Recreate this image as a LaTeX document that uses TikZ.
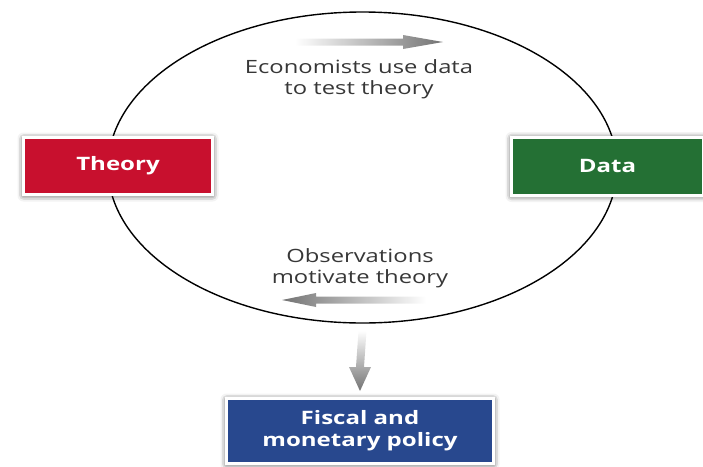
\documentclass[tikz,border=0pt]{standalone}
\usepackage{fontspec}
\setsansfont[FakeStretch=1.3]{Open Sans}
\usetikzlibrary{shapes.geometric,calc,shadows.blur}

\definecolor{theoryred}{RGB}{200,16,46}
\definecolor{datagreen}{RGB}{36,112,52}
\definecolor{policyblue}{RGB}{40,72,142}
\definecolor{notegray}{RGB}{55,55,55}

\tikzset{
  box/.style={draw=white, line width=3pt, text=white, align=center, inner sep=0pt,
    font=\sffamily\bfseries\fontsize{18.5}{22}\selectfont,
    blur shadow={shadow xshift=0pt, shadow yshift=-1pt, shadow blur radius=6pt, shadow opacity=75}},
  note/.style={text=notegray, align=center, font=\sffamily\fontsize{18.3}{20.5}\selectfont},
}

\begin{document}
\begin{tikzpicture}[x=1pt,y=-1pt]
\useasboundingbox (0,0) rectangle (703,466);
% the cycle
\node[ellipse, draw, line width=1.4pt, minimum width=509, minimum height=311, inner sep=0pt] (loop) at (362.5,167.5) {};
\node[box, fill=theoryred, minimum width=189, minimum height=57] (theory) at (118,166) {Theory};
\node[box, fill=datagreen, minimum width=192, minimum height=58] (data) at (607.5,166) {Data};
\node[box, fill=policyblue, minimum width=267, minimum height=65] (policy) at (360,431) {Fiscal and\\monetary policy};
\node[note] (test) at (359,79) {Economists use data\\to test theory};
\node[note] (observe) at (360,268) {Observations\\motivate theory};
% gray arrows
\shade[left color=white, right color=black!55] (295,38.5) -- (403,38.5) -- (403,35) -- (443,42) -- (403,49) -- (403,45.5) -- (295,45.5) -- cycle;
\shade[left color=black!55, right color=white] (426,296.5) -- (316,296.5) -- (316,293) -- (282,300) -- (316,307) -- (316,303.5) -- (426,303.5) -- cycle;
\shade[top color=white, bottom color=black!55]
  ($(loop.south)+(-4,7)$) -- ($(policy.north)+(-4,-30)$) -- ($(policy.north)+(-11,-30)$)
  -- ($(policy.north)+(0,-6)$)
  -- ($(policy.north)+(11,-30)$) -- ($(policy.north)+(4,-30)$) -- ($(loop.south)+(4,7)$) -- cycle;
\end{tikzpicture}
\end{document}
